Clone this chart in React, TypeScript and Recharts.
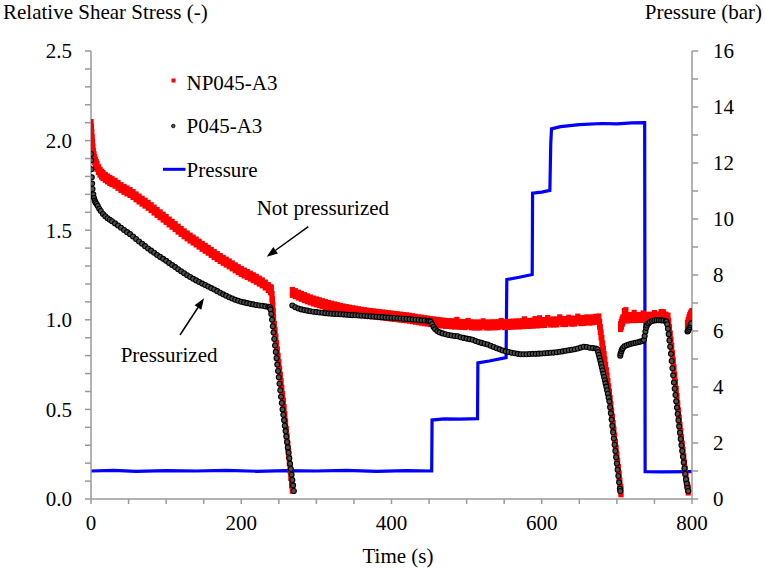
import React from 'react';
import { ComposedChart, Scatter, Line, XAxis, YAxis } from 'recharts';

// ---------- data (time s, value) ----------
const npSeg1: [number, number][] = [
  [0, 2.09], [0.5, 2.065], [1, 2.035], [1.5, 2.005], [2, 1.978], [2.5, 1.953], [3, 1.93], [4, 1.91], [5, 1.893],
  [6, 1.878], [7, 1.866], [8, 1.856], [10, 1.838], [12, 1.824], [14, 1.813], [16, 1.805], [19, 1.795],
  [22, 1.786], [25, 1.778], [28, 1.771], [32, 1.762], [36, 1.75], [40, 1.738], [44, 1.728], [48, 1.719],
  [52, 1.71], [56, 1.699], [60, 1.686], [64, 1.674], [68, 1.662], [72, 1.651], [76, 1.639], [80, 1.626],
  [84, 1.612], [88, 1.599], [92, 1.586], [96, 1.573], [100, 1.56], [104, 1.546], [108, 1.533], [112, 1.52],
  [116, 1.506], [120, 1.493], [124, 1.48], [128, 1.468], [132, 1.456], [136, 1.445], [140, 1.434],
  [144, 1.422], [148, 1.41], [152, 1.399], [156, 1.388], [160, 1.376], [164, 1.364], [168, 1.353],
  [172, 1.342], [176, 1.332], [180, 1.322], [184, 1.312], [188, 1.301], [192, 1.29], [196, 1.28],
  [200, 1.27], [204, 1.261], [208, 1.253], [212, 1.244], [216, 1.235], [220, 1.226], [224, 1.216],
  [228, 1.206], [232, 1.194], [236, 1.18], [239, 1.168],
];
const npDrop1: [number, number][] = [
  [240, 1.165], [241, 1.13], [241.5, 1.1], [242, 1.07], [242.5, 1.035], [243, 1.0], [244, 0.964], [245, 0.929],
  [246, 0.893], [247, 0.857], [248, 0.821], [249, 0.786], [250, 0.75], [251, 0.714], [252, 0.679], [253, 0.643],
  [254, 0.607], [255, 0.571], [256, 0.536], [257, 0.5], [258, 0.459], [259, 0.418], [260, 0.377], [261, 0.336],
  [262, 0.295], [263, 0.254], [264, 0.213], [265, 0.172], [266, 0.131], [267, 0.09], [268, 0.06],
];
const npSeg2: [number, number][] = [
  [268, 1.153], [272, 1.146], [276, 1.138], [280, 1.131], [284, 1.124], [288, 1.117], [292, 1.111], [296, 1.105],
  [300, 1.1], [304, 1.095], [308, 1.09], [312, 1.085], [316, 1.08], [320, 1.076], [324, 1.072], [328, 1.068],
  [332, 1.064], [336, 1.06], [340, 1.057], [344, 1.054], [348, 1.051], [352, 1.048], [356, 1.045], [360, 1.042],
  [364, 1.04], [368, 1.037], [372, 1.035], [376, 1.033], [380, 1.031], [384, 1.029], [388, 1.027], [392, 1.025],
  [396, 1.023], [400, 1.021], [404, 1.019], [408, 1.017], [412, 1.015], [416, 1.013], [420, 1.011], [424, 1.009],
  [428, 1.006], [432, 1.003], [436, 1.0], [440, 0.998], [444, 0.995], [448, 0.993], [452, 0.99], [456, 0.988],
  [460, 0.986], [464, 0.984], [468, 0.982], [472, 0.98], [476, 0.979], [480, 0.978], [484, 0.976], [487, 0.986],
  [490, 0.975], [494, 0.974], [498, 0.973], [502, 0.98], [506, 0.972], [510, 0.971], [514, 0.971], [518, 0.971],
  [522, 0.978], [526, 0.971], [530, 0.971], [534, 0.972], [538, 0.972], [542, 0.973], [546, 0.98], [550, 0.973],
  [554, 0.974], [558, 0.975], [562, 0.976], [566, 0.977], [570, 0.977], [574, 0.978], [577, 0.989], [580, 0.979],
  [584, 0.98], [588, 0.981], [591, 0.99], [594, 0.982], [597, 0.995], [600, 0.984], [604, 0.985], [608, 0.996],
  [612, 0.987], [616, 0.988], [620, 0.988], [624, 1.0], [628, 0.99], [632, 0.99], [636, 0.998], [640, 0.992],
  [644, 0.993], [648, 1.004], [652, 0.995], [656, 0.996], [660, 1.0], [664, 0.998], [668, 1.0], [672, 1.003],
  [676, 1.005],
];
const npDrop2: [number, number][] = [
  [677, 0.975], [678, 0.945], [679, 0.915], [680, 0.885], [681, 0.855], [682, 0.825], [683, 0.795], [684, 0.765],
  [685, 0.735], [686, 0.705], [687, 0.675], [688, 0.645], [689, 0.615], [690, 0.585], [691, 0.55], [692, 0.515],
  [693, 0.48], [694, 0.445], [695, 0.41], [696, 0.375], [697, 0.34], [698, 0.305], [699, 0.27], [700, 0.235],
  [701, 0.2], [702, 0.165], [703, 0.13], [704, 0.09], [705, 0.055], [705.5, 0.04],
];
const npSeg3: [number, number][] = [
  [705, 0.962], [706, 0.975], [707, 0.99], [708, 1.0], [710, 1.035], [712, 1.04], [714, 1.01], [717, 1.012],
  [720, 1.012], [723, 1.025], [726, 1.012], [729, 1.013], [732, 1.013], [735, 1.022], [738, 1.013], [741, 1.014],
  [744, 1.014], [747, 1.014], [750, 1.024], [753, 1.014], [756, 1.015], [759, 1.03], [762, 1.028], [765, 1.015],
  [768, 1.01],
];
const npDrop3: [number, number][] = [
  [769, 0.98], [770, 0.945], [771, 0.91], [772, 0.875], [773, 0.84], [774, 0.8], [775, 0.76], [776, 0.72],
  [777, 0.68], [778, 0.64], [779, 0.6], [780, 0.56], [781, 0.52], [782, 0.48], [783, 0.44], [784, 0.4],
  [785, 0.365], [786, 0.33], [787, 0.295], [788, 0.26], [789, 0.225], [790, 0.19], [791, 0.155], [792, 0.12],
  [793, 0.09], [794, 0.065], [795, 0.05],
];
const npTail: [number, number][] = [
  [794, 0.97], [795, 0.985], [796, 1.0], [797, 1.012], [798, 1.022], [799, 1.03], [800, 1.035],
];

const pSeg1: [number, number][] = [
  [0, 1.925], [0.3, 1.89], [0.6, 1.84], [1, 1.795], [1.5, 1.76], [2, 1.73], [3, 1.7], [4, 1.68], [5, 1.665],
  [6, 1.655], [7.5, 1.646], [9, 1.635], [11, 1.62], [13, 1.607], [16, 1.59], [19, 1.578], [22, 1.567],
  [25, 1.558], [28, 1.55], [32, 1.538], [36, 1.526], [40, 1.514], [44, 1.501], [48, 1.489], [52, 1.478],
  [56, 1.465], [60, 1.451], [64, 1.437], [68, 1.424], [72, 1.411], [76, 1.398], [80, 1.386], [84, 1.374],
  [88, 1.362], [92, 1.351], [96, 1.34], [100, 1.329], [104, 1.317], [108, 1.306], [112, 1.294], [116, 1.282],
  [120, 1.271], [124, 1.26], [128, 1.249], [132, 1.239], [136, 1.229], [140, 1.22], [144, 1.211],
  [148, 1.202], [152, 1.194], [156, 1.186], [160, 1.177], [164, 1.169], [168, 1.16], [172, 1.151],
  [176, 1.142], [180, 1.134], [184, 1.126], [188, 1.119], [192, 1.112], [196, 1.106], [200, 1.101],
  [204, 1.097], [208, 1.093], [212, 1.089], [216, 1.086], [220, 1.083], [224, 1.08], [228, 1.078],
  [232, 1.075], [236, 1.072],
];
const pDrop1: [number, number][] = [
  [238, 1.07], [239, 1.058], [240, 1.033], [241, 1.0], [242, 0.964], [243, 0.929], [244, 0.893], [245, 0.857],
  [246, 0.821], [247, 0.786], [248, 0.75], [249, 0.714], [250, 0.679], [251, 0.643], [252, 0.607], [253, 0.571],
  [254, 0.536], [255, 0.5], [256, 0.47], [257, 0.44], [258, 0.409], [259, 0.379], [260, 0.349], [261, 0.318],
  [262, 0.288], [263, 0.258], [264, 0.227], [265, 0.197], [266, 0.167], [267, 0.136], [268, 0.106],
  [269, 0.076], [270, 0.045],
];
const pSeg2: [number, number][] = [
  [268, 1.08], [272, 1.07], [276, 1.063], [280, 1.058], [284, 1.054], [288, 1.051], [292, 1.048], [296, 1.045],
  [300, 1.043], [304, 1.041], [308, 1.039], [312, 1.037], [316, 1.035], [320, 1.034], [324, 1.033], [328, 1.032],
  [332, 1.031], [336, 1.03], [340, 1.028], [344, 1.027], [348, 1.026], [352, 1.025], [356, 1.024], [360, 1.023],
  [364, 1.022], [368, 1.02], [372, 1.019], [376, 1.018], [380, 1.017], [384, 1.016], [388, 1.015], [392, 1.013],
  [396, 1.012], [400, 1.011], [404, 1.01], [408, 1.008], [412, 1.007], [416, 1.006], [420, 1.005], [424, 1.004],
  [428, 1.002], [432, 1.0], [436, 0.999], [440, 0.997], [444, 0.996], [448, 0.995], [450, 0.994], [452, 0.99],
  [454, 0.975], [456, 0.96], [458, 0.948], [461, 0.937], [464, 0.93], [468, 0.924], [472, 0.919], [476, 0.915],
  [480, 0.912], [484, 0.91], [488, 0.908], [492, 0.903], [496, 0.899], [500, 0.895], [504, 0.892], [508, 0.889],
  [512, 0.882], [516, 0.876], [520, 0.871], [524, 0.866], [528, 0.862], [532, 0.855], [536, 0.848], [540, 0.841],
  [544, 0.835], [548, 0.829], [552, 0.824], [556, 0.82], [560, 0.816], [564, 0.813], [568, 0.81], [572, 0.808],
  [576, 0.808], [580, 0.808], [584, 0.809], [588, 0.81], [592, 0.81], [596, 0.811], [600, 0.812], [604, 0.813],
  [608, 0.815], [612, 0.816], [616, 0.817], [620, 0.819], [624, 0.822], [628, 0.824], [632, 0.827], [636, 0.83],
  [640, 0.833], [644, 0.836], [648, 0.84], [652, 0.845], [656, 0.85], [660, 0.848], [664, 0.844], [668, 0.842],
  [672, 0.84],
];
const pDrop2: [number, number][] = [
  [674, 0.836], [675, 0.82], [676, 0.805], [677, 0.788], [678, 0.771], [679, 0.753], [680, 0.735], [681, 0.717],
  [682, 0.699], [683, 0.681], [684, 0.663], [685, 0.645], [686, 0.627], [687, 0.607], [688, 0.587], [689, 0.566],
  [690, 0.545], [691, 0.512], [692, 0.478], [693, 0.443], [694, 0.408], [695, 0.373], [696, 0.338], [697, 0.303],
  [698, 0.268], [699, 0.233], [700, 0.198], [701, 0.163], [702, 0.128], [703, 0.093], [704, 0.058], [704.5, 0.045],
];
const pSeg3: [number, number][] = [
  [704.5, 0.8], [705, 0.812], [706, 0.825], [707, 0.835], [708, 0.843], [710, 0.852], [713, 0.858], [716, 0.862],
  [719, 0.866], [722, 0.869], [725, 0.872], [728, 0.875], [731, 0.878], [734, 0.882], [736, 0.888], [737, 0.91],
  [738, 0.935], [739, 0.955], [740, 0.968], [742, 0.98], [744, 0.988], [747, 0.993], [750, 0.996], [753, 0.998],
  [756, 0.998], [759, 0.997], [762, 0.996], [765, 0.992],
];
const pDrop3: [number, number][] = [
  [766, 0.99], [767, 0.975], [768, 0.95], [769, 0.92], [770, 0.885], [771, 0.85], [772, 0.81], [773, 0.77],
  [774, 0.73], [775, 0.69], [776, 0.65], [777, 0.615], [778, 0.58], [779, 0.545], [780, 0.51], [781, 0.475],
  [782, 0.44], [783, 0.405], [784, 0.37], [785, 0.335], [786, 0.3], [787, 0.268], [788, 0.236], [789, 0.204],
  [790, 0.172], [791, 0.14], [792, 0.11], [793, 0.085], [794, 0.062], [795, 0.045],
];
const pTail: [number, number][] = [
  [794, 0.935], [795, 0.94], [796, 0.95], [797, 0.96], [798, 0.97], [799, 0.98],
];

const pressureBar: [number, number][] = [
  [0, 1.0], [30, 1.02], [60, 0.99], [100, 1.01], [140, 1.0], [180, 1.02], [220, 0.99], [260, 1.01],
  [300, 1.0], [340, 1.02], [380, 0.99], [420, 1.01], [453.5, 1.0], [454, 2.82], [470, 2.86], [490, 2.85],
  [514.5, 2.87], [515, 4.86], [530, 4.93], [552.5, 5.05], [553.5, 7.84], [570, 7.92], [587.3, 8.02],
  [587.8, 10.92], [600, 10.96], [610.8, 11.02], [612, 12.7], [613, 13.22], [625, 13.3], [650, 13.37],
  [680, 13.41], [700, 13.4], [720, 13.43], [737, 13.44], [737.6, 0.98], [760, 0.97], [800, 0.98],
];

const xTicks = [0, 50, 100, 150, 200, 250, 300, 350, 400, 450, 500, 550, 600, 650, 700, 750, 800];
const xLabels = [0, 200, 400, 600, 800];
const leftTicks = [0, 0.1, 0.2, 0.3, 0.4, 0.5, 0.6, 0.7, 0.8, 0.9, 1.0, 1.1, 1.2, 1.3, 1.4, 1.5, 1.6, 1.7, 1.8, 1.9, 2.0, 2.1, 2.2, 2.3, 2.4, 2.5];
const leftLabels = [0, 0.5, 1.0, 1.5, 2.0, 2.5];
const rightTicks = [0, 1, 2, 3, 4, 5, 6, 7, 8, 9, 10, 11, 12, 13, 14, 15, 16];
const rightLabels = [0, 2, 4, 6, 8, 10, 12, 14, 16];

const seriesNames = ['NP045-A3', 'P045-A3', 'Pressure'];

const toPts = (arr: [number, number][]) => arr.map(([t, v]) => ({ t, v }));
const npData = toPts([...npSeg1, ...npDrop1, ...npSeg2, ...npDrop2, ...npSeg3, ...npDrop3, ...npTail]);
const pData = toPts([...pSeg1, ...pDrop1, ...pSeg2, ...pDrop2, ...pSeg3, ...pDrop3, ...pTail]);
const pressureData = pressureBar.map(([t, p]) => ({ t, p }));

// ---------- styling ----------
const FONT = '"Liberation Serif", "Times New Roman", serif';
const AXIS = '#9a9a9a';
const tickStyle = { fill: '#000', fontSize: 21, fontFamily: FONT };

const RedMark = (props: any) => {
  const { cx, cy } = props;
  if (cx == null || cy == null) return null;
  return <rect x={cx - 2.6} y={cy - 5.5} width={5.2} height={11} fill="#ff0000" />;
};
const BlackMark = (props: any) => {
  const { cx, cy } = props;
  if (cx == null || cy == null) return null;
  return <circle cx={cx} cy={cy} r={2.5} fill="#505050" stroke="#000" strokeWidth={1.1} />;
};

const near = (list: number[], v: number) => list.some((l) => Math.abs(l - v) < 1e-6);

function Arrow({ x1, y1, x2, y2 }: { x1: number; y1: number; x2: number; y2: number }) {
  const dx = x2 - x1;
  const dy = y2 - y1;
  const len = Math.hypot(dx, dy);
  const ux = dx / len;
  const uy = dy / len;
  const hl = 11;
  const hw = 4;
  const bx = x2 - ux * hl;
  const by = y2 - uy * hl;
  const nx = -uy;
  const ny = ux;
  return (
    <g>
      <line x1={x1} y1={y1} x2={bx} y2={by} stroke="#000" strokeWidth={1.5} />
      <polygon points={`${x2},${y2} ${bx + nx * hw},${by + ny * hw} ${bx - nx * hw},${by - ny * hw}`} fill="#000" />
    </g>
  );
}

export default function App() {
  return (
    <div style={{ position: 'absolute', left: 0, top: 0, width: 765, height: 570, background: '#fff' }}>
      <ComposedChart width={765} height={570} margin={{ top: 51, right: 13, bottom: 31, left: 11 }}>
        <XAxis
          type="number"
          dataKey="t"
          domain={[0, 800]}
          ticks={xTicks}
          interval={0}
          allowDataOverflow
          tickFormatter={(v: number) => (near(xLabels, v) ? String(v) : '')}
          tickSize={5}
          tickMargin={11}
          stroke={AXIS}
          strokeWidth={1.5}
          tick={tickStyle}
          height={40}
        />
        <YAxis
          yAxisId="L"
          type="number"
          domain={[0, 2.5]}
          ticks={leftTicks}
          interval={0}
          allowDataOverflow
          tickFormatter={(v: number) => (near(leftLabels, v) ? v.toFixed(1) : '')}
          tickSize={6}
          tickMargin={13}
          stroke={AXIS}
          strokeWidth={1.5}
          tick={tickStyle}
          width={80}
        />
        <YAxis
          yAxisId="R"
          orientation="right"
          type="number"
          domain={[0, 16]}
          ticks={rightTicks}
          interval={0}
          allowDataOverflow
          tickFormatter={(v: number) => (near(rightLabels, v) ? String(v) : '')}
          tickSize={6}
          tickMargin={15}
          stroke={AXIS}
          strokeWidth={1.5}
          tick={tickStyle}
          width={60}
        />
        <Scatter name={seriesNames[0]} yAxisId="L" data={npData} dataKey="v" shape={RedMark} isAnimationActive={false} />
        <Scatter name={seriesNames[1]} yAxisId="L" data={pData} dataKey="v" shape={BlackMark} isAnimationActive={false} />
        <Line
          name={seriesNames[2]}
          yAxisId="R"
          data={pressureData}
          dataKey="p"
          type="linear"
          dot={false}
          activeDot={false}
          stroke="#0000ff"
          strokeWidth={3.2}
          isAnimationActive={false}
        />
      </ComposedChart>
      <svg
        width={765}
        height={570}
        style={{ position: 'absolute', left: 0, top: 0, pointerEvents: 'none' }}
        fontFamily={FONT}
        fontSize={21}
      >
        <text x={3} y={19}>Relative Shear Stress (-)</text>
        <text x={762} y={19} textAnchor="end">Pressure (bar)</text>
        <text x={398} y={563} textAnchor="middle">Time (s)</text>

        {/* legend */}
        <rect x={171.5} y={78.5} width={4} height={4} fill="#ff0000" />
        <text x={186.5} y={90}>{seriesNames[0]}</text>
        <circle cx={173.3} cy={126} r={1.8} fill="#505050" stroke="#000" strokeWidth={0.8} />
        <text x={186.5} y={133}>{seriesNames[1]}</text>
        <line x1={163} y1={169.3} x2={185.5} y2={169.3} stroke="#0000ff" strokeWidth={3} />
        <text x={186.5} y={177}>{seriesNames[2]}</text>

        {/* annotations */}
        <text x={256.7} y={215}>Not pressurized</text>
        <Arrow x1={308.3} y1={226.7} x2={266.7} y2={256.7} />
        <text x={120.7} y={362}>Pressurized</text>
        <Arrow x1={180} y1={335} x2={204} y2={298.3} />
      </svg>
    </div>
  );
}
